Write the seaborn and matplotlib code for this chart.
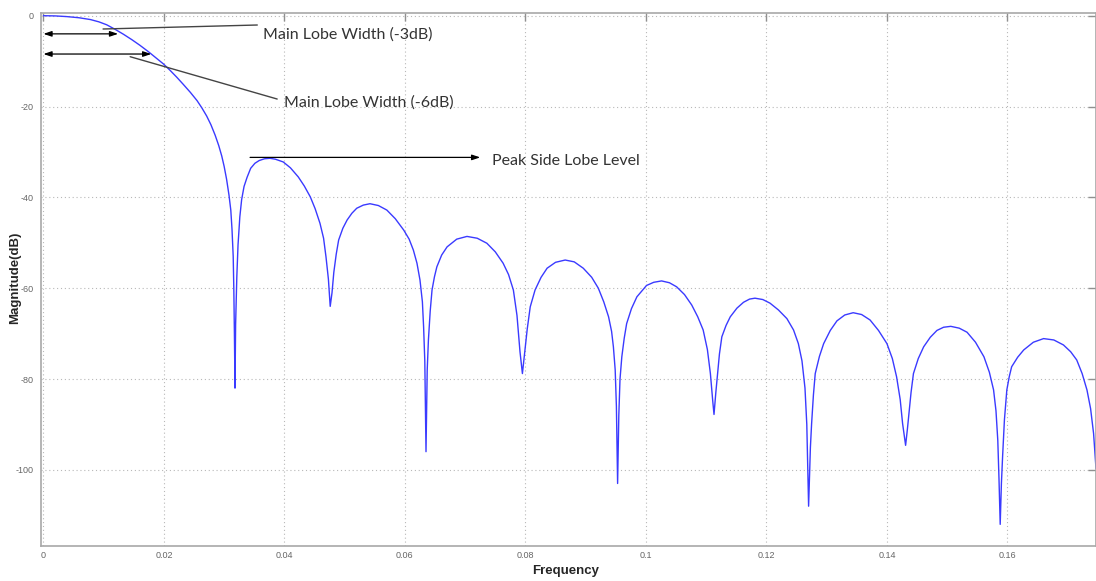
import matplotlib
matplotlib.use("Agg")
import matplotlib.pyplot as plt
import seaborn as sns
import pandas as pd

# ---- data ----
freq = [
    0.0000, 0.0020, 0.0039, 0.0059, 0.0078, 0.0092, 0.0105, 0.0119, 0.0133, 0.0147,
    0.0160, 0.0174, 0.0188, 0.0199, 0.0210, 0.0221, 0.0232, 0.0244, 0.0255, 0.0263,
    0.0271, 0.0278, 0.0285, 0.0291, 0.0296, 0.0300, 0.0304, 0.0308, 0.0311, 0.0313,
    0.0315, 0.0316, 0.0317, 0.0318, 0.0319, 0.0321, 0.0323, 0.0326, 0.0329, 0.0333,
    0.0338, 0.0344, 0.0351, 0.0358, 0.0367, 0.0376, 0.0385, 0.0398, 0.0410, 0.0423,
    0.0433, 0.0443, 0.0451, 0.0459, 0.0465, 0.0469, 0.0473, 0.0476, 0.0479, 0.0482,
    0.0486, 0.0490, 0.0497, 0.0504, 0.0512, 0.0520, 0.0531, 0.0542, 0.0556, 0.0570,
    0.0584, 0.0598, 0.0607, 0.0614, 0.0620, 0.0625, 0.0629, 0.0631, 0.0633, 0.0635,
    0.0637, 0.0639, 0.0642, 0.0645, 0.0649, 0.0653, 0.0661, 0.0670, 0.0686, 0.0703,
    0.0720, 0.0736, 0.0750, 0.0763, 0.0772, 0.0780, 0.0786, 0.0791, 0.0795, 0.0799,
    0.0803, 0.0808, 0.0816, 0.0826, 0.0836, 0.0850, 0.0866, 0.0881, 0.0896, 0.0910,
    0.0921, 0.0930, 0.0938, 0.0943, 0.0946, 0.0949, 0.0951, 0.0953, 0.0955, 0.0957,
    0.0960, 0.0964, 0.0968, 0.0976, 0.0985, 0.1001, 0.1013, 0.1026, 0.1039, 0.1051,
    0.1064, 0.1076, 0.1086, 0.1095, 0.1102, 0.1107, 0.1111, 0.1113, 0.1116, 0.1119,
    0.1122, 0.1126, 0.1133, 0.1140, 0.1151, 0.1162, 0.1172, 0.1181, 0.1194, 0.1206,
    0.1220, 0.1234, 0.1245, 0.1253, 0.1259, 0.1264, 0.1267, 0.1270, 0.1273, 0.1275,
    0.1278, 0.1281, 0.1288, 0.1295, 0.1306, 0.1317, 0.1330, 0.1344, 0.1358, 0.1372,
    0.1386, 0.1400, 0.1409, 0.1416, 0.1422, 0.1426, 0.1431, 0.1434, 0.1436, 0.1440,
    0.1444, 0.1452, 0.1461, 0.1472, 0.1483, 0.1494, 0.1506, 0.1520, 0.1533, 0.1547,
    0.1561, 0.1570, 0.1577, 0.1581, 0.1584, 0.1586, 0.1588, 0.1590, 0.1592, 0.1595,
    0.1599, 0.1603, 0.1607, 0.1617, 0.1627, 0.1643, 0.1660, 0.1677, 0.1693, 0.1705,
    0.1715, 0.1724, 0.1732, 0.1738, 0.1743, 0.1747,
]
magnitude_db = [
    0.0, -0.05, -0.2, -0.45, -0.85, -1.35, -2.0, -3.0, -4.1, -5.3,
    -6.5, -7.9, -9.4, -10.6, -12.0, -13.5, -15.1, -16.9, -18.7, -20.3,
    -22.1, -24.0, -26.3, -28.6, -30.9, -33.2, -36.0, -39.5, -42.8, -47.0,
    -53.0, -60.0, -70.0, -82.0, -68.0, -57.5, -50.5, -44.3, -40.5, -37.6,
    -35.6, -33.6, -32.5, -31.9, -31.5, -31.4, -31.6, -32.2, -33.5, -35.5,
    -37.5, -39.9, -42.5, -45.7, -49.0, -53.1, -58.0, -64.0, -61.0, -56.5,
    -52.5, -49.4, -46.8, -45.0, -43.5, -42.4, -41.7, -41.4, -41.8, -42.8,
    -44.7, -47.2, -49.2, -51.6, -54.5, -58.2, -63.0, -68.5, -76.0, -96.0,
    -78.0, -71.4, -65.0, -60.4, -57.5, -55.3, -52.7, -50.9, -49.2, -48.6,
    -49.0, -50.1, -52.0, -54.5, -57.0, -60.4, -66.0, -74.0, -78.8, -74.0,
    -69.0, -64.1, -60.4, -57.6, -55.6, -54.3, -53.8, -54.2, -55.6, -57.6,
    -60.0, -63.0, -66.3, -69.5, -72.9, -78.0, -86.0, -103.0, -88.0, -80.0,
    -75.1, -71.0, -67.8, -64.5, -61.9, -59.4, -58.7, -58.4, -58.8, -59.7,
    -61.4, -63.7, -66.3, -69.2, -73.5, -78.8, -85.0, -87.8, -83.0, -78.8,
    -74.5, -70.7, -68.2, -66.3, -64.4, -63.1, -62.4, -62.2, -62.5, -63.3,
    -64.8, -66.7, -69.2, -72.2, -76.0, -82.0, -90.0, -108.0, -95.0, -89.8,
    -83.5, -78.8, -75.0, -72.2, -69.3, -67.2, -65.9, -65.4, -65.8, -67.0,
    -69.3, -72.2, -75.5, -79.5, -84.5, -89.8, -94.6, -91.0, -88.3, -83.0,
    -78.8, -75.5, -72.9, -70.8, -69.3, -68.6, -68.4, -68.8, -69.7, -71.9,
    -75.1, -78.5, -82.4, -87.0, -93.5, -102.0, -112.0, -103.0, -97.0, -89.0,
    -82.4, -79.5, -77.3, -75.2, -73.6, -71.9, -71.1, -71.4, -72.5, -74.0,
    -75.8, -78.8, -82.4, -86.5, -92.0, -99.7,
]
x_ticks = [0, 0.02, 0.04, 0.06, 0.08, 0.1, 0.12, 0.14, 0.16]
x_tick_labels = ["0", "0.02", "0.04", "0.06", "0.08", "0.1", "0.12", "0.14", "0.16"]
y_ticks = [0, -20, -40, -60, -80, -100]
y_tick_labels = ["0", "-20", "-40", "-60", "-80", "-100"]
x_label = "Frequency"
y_label = "Magnitude(dB)"
annot_3db_text = "Main Lobe Width (-3dB)"
annot_6db_text = "Main Lobe Width (-6dB)"
annot_psl_text = "Peak Side Lobe Level"

# ---- figure ----
sns.set_style("white")
plt.rcParams["axes.unicode_minus"] = False
plt.rcParams["font.family"] = ["Liberation Sans", "DejaVu Sans"]

fig = plt.figure(figsize=(10.96, 5.81), dpi=100)
ax = fig.add_axes([41 / 1096, 1 - 545.7 / 581, 1 - 41 / 1096, (545.7 - 12.7) / 581])

df = pd.DataFrame({"Frequency": freq, "Magnitude": magnitude_db})
sns.lineplot(data=df, x="Frequency", y="Magnitude", ax=ax, color="#3a3aff",
             linewidth=1.0, estimator=None, sort=False)

ax.set_xlim(-0.0004, 0.1747)
ax.set_ylim(-116.7, 0.66)
ax.set_xticks(x_ticks)
ax.set_xticklabels(x_tick_labels)
ax.set_yticks(y_ticks)
ax.set_yticklabels(y_tick_labels)

ax.grid(True, color="#b8b8b8", linestyle=(0, (1, 2.5)), linewidth=0.8)
for s in ax.spines.values():
    s.set_color("#a8a8a8")
    s.set_linewidth(1.2)
ax.tick_params(axis="both", direction="in", length=6, width=1, color="#909090",
               labelsize=6.5, labelcolor="#666666", top=True, right=True)
ax.tick_params(axis="y", pad=5)
ax.tick_params(axis="x", pad=4)

ax.set_xlabel(x_label, fontsize=9.5, fontweight="bold")
ax.set_ylabel(y_label, fontsize=9.5, fontweight="bold")
ax.xaxis.set_label_coords(0.5 + (566 - 568.5) / 1055, (545.7 - 571) / 533)
ax.yaxis.set_label_coords((15 - 41) / 1055, 0.5 + (280 - 279) / 533)
ax.xaxis.label.set_va("center")
ax.yaxis.label.set_va("center")

# ---- annotations ----
txt_kw = dict(fontsize=11.5, color="#333333", ha="left", va="center",
              family=["Lato", "DejaVu Sans"], fontweight="normal")
dbl = dict(arrowstyle="<|-|>,head_length=0.6,head_width=0.2", color="black",
           lw=0.9, shrinkA=0, shrinkB=0, mutation_scale=8)
one = dict(arrowstyle="-|>,head_length=0.6,head_width=0.2", color="black",
           lw=0.9, shrinkA=0, shrinkB=0, mutation_scale=8)
lead = dict(arrowstyle="-", color="#444444", lw=1.0, shrinkA=0, shrinkB=0)

ax.annotate("", xy=(0.0124, -4.0), xytext=(0.0, -4.0), arrowprops=dbl)
ax.annotate("", xy=(0.0179, -8.44), xytext=(0.0, -8.44), arrowprops=dbl)
ax.annotate("", xy=(0.0355, -2.05), xytext=(0.0099, -2.93), arrowprops=lead)
ax.annotate("", xy=(0.0388, -18.35), xytext=(0.0144, -9.03), arrowprops=lead)
ax.annotate("", xy=(0.0725, -31.2), xytext=(0.0343, -31.2), arrowprops=one)

ax.text(0.0365, -4.1, annot_3db_text, **txt_kw)
ax.text(0.0399, -19.2, annot_6db_text, **txt_kw)
ax.text(0.0745, -32.0, annot_psl_text, **txt_kw)

fig.savefig("out.png", dpi=100)
